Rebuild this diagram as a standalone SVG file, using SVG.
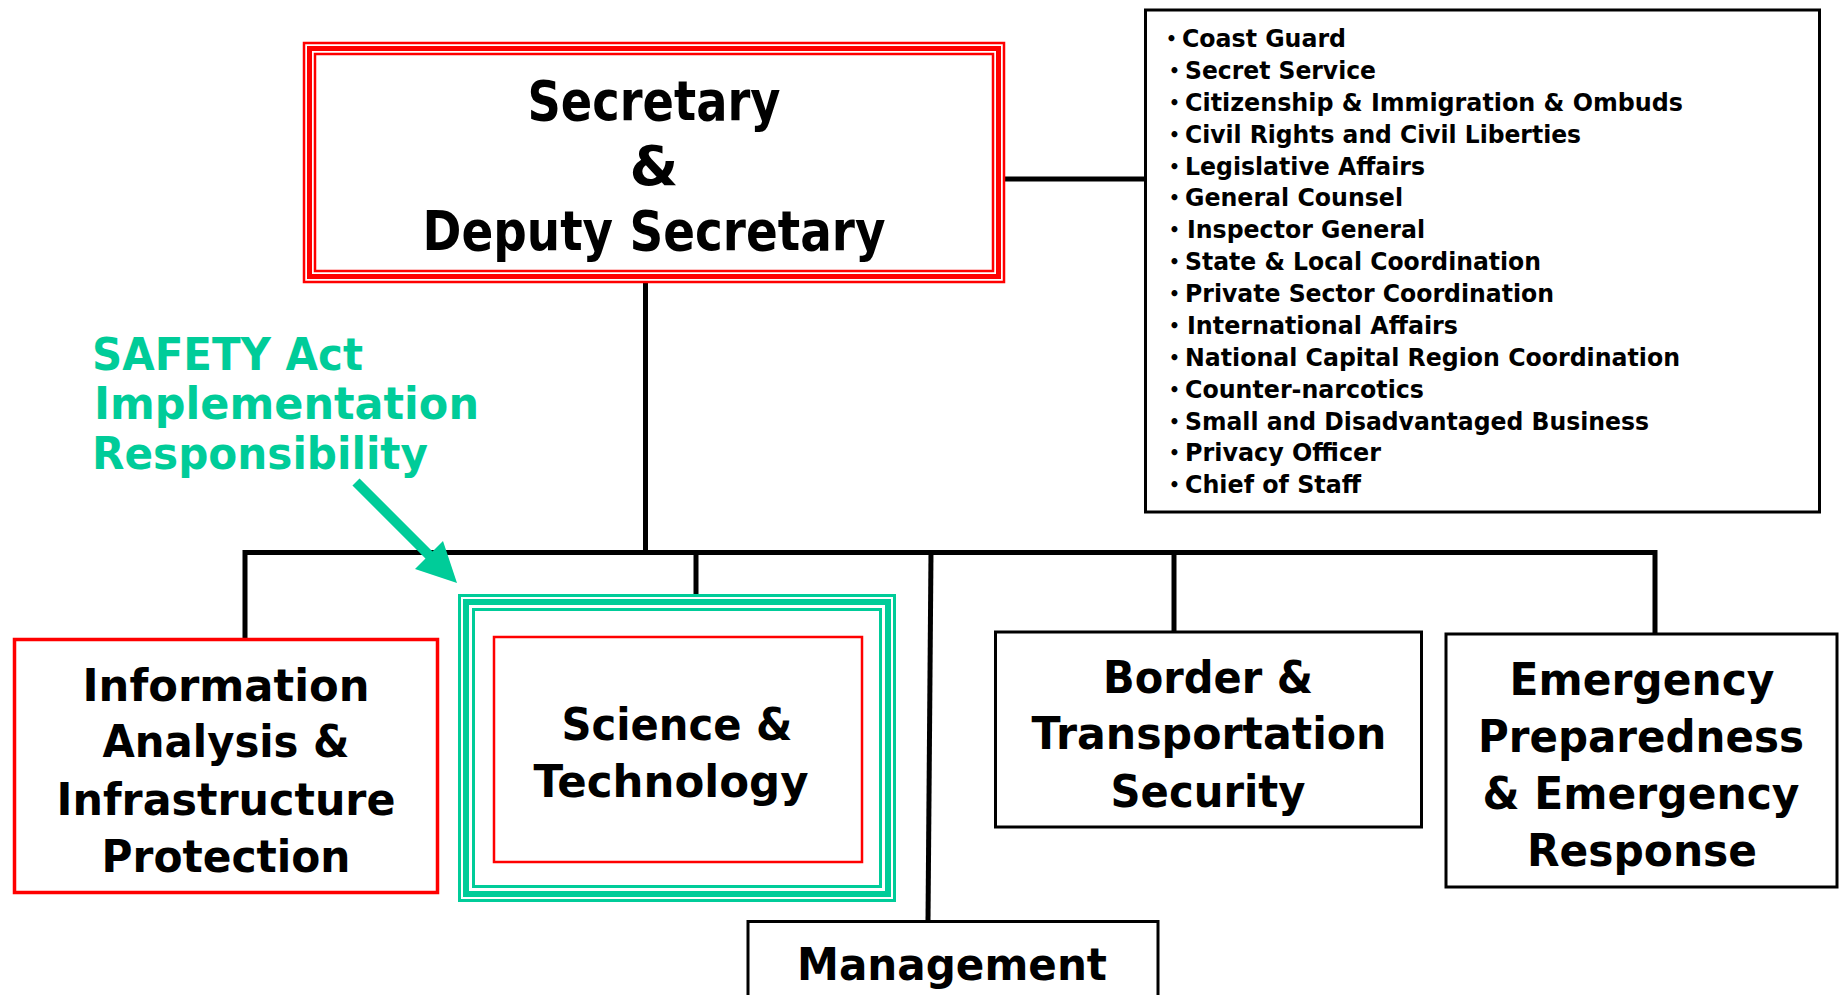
<svg xmlns="http://www.w3.org/2000/svg" width="1847" height="995" viewBox="0 0 1847 995">
<style>
.t{font-family:"DejaVu Sans","Liberation Sans",sans-serif;font-weight:bold;fill:#000;text-anchor:middle}
.big{font-size:56px}
.mid{font-size:45px}
.lst{font-family:"DejaVu Sans","Liberation Sans",sans-serif;font-weight:bold;font-size:24px;fill:#000}
.bul{font-size:17px}
.grn{font-family:"DejaVu Sans","Liberation Sans",sans-serif;font-weight:bold;font-size:44px;fill:#00CC99}
.red{fill:none;stroke:#FF0000}
.gr{fill:none;stroke:#00CC99}
.blk{fill:#fff;stroke:#000;stroke-width:3}
.con{fill:none;stroke:#000;stroke-width:5;stroke-linejoin:miter}
</style>
<rect width="1847" height="995" fill="#fff"/>

<g id="connectors">
<line class="con" x1="1005" y1="179" x2="1144" y2="179"/>
<line class="con" x1="645.5" y1="283" x2="645.5" y2="553"/>
<path class="con" d="M245,639 V552.5 H1655 V634"/>
<line class="con" x1="696" y1="552" x2="696" y2="637"/>
<line class="con" x1="931" y1="552" x2="928" y2="921"/>
<line class="con" x1="1174" y1="552" x2="1174" y2="632"/>
</g>

<g id="secretary">
<rect x="303" y="42" width="702" height="241" fill="#fff" stroke="none"/>
<rect class="red" x="304" y="43" width="700" height="239" stroke-width="2.5"/>
<rect class="red" x="309.5" y="48.5" width="689" height="228" stroke-width="5"/>
<rect class="red" x="315" y="54" width="678" height="217" stroke-width="2.5"/>
<text class="t big" x="654" y="120" textLength="253" lengthAdjust="spacingAndGlyphs">Secretary</text>
<text class="t big" x="654" y="185">&amp;</text>
<text class="t big" x="654" y="250" textLength="463" lengthAdjust="spacingAndGlyphs">Deputy Secretary</text>
</g>

<g id="offices">
<rect class="blk" x="1145.5" y="10" width="674" height="502"/>
<g class="lst">
<text class="bul" x="1166" y="45">•</text><text x="1182" y="47" textLength="164" lengthAdjust="spacingAndGlyphs">Coast Guard</text>
<text class="bul" x="1169" y="77">•</text><text x="1185" y="79" textLength="191" lengthAdjust="spacingAndGlyphs">Secret Service</text>
<text class="bul" x="1169" y="109">•</text><text x="1185" y="111" textLength="498" lengthAdjust="spacingAndGlyphs">Citizenship &amp; Immigration &amp; Ombuds</text>
<text class="bul" x="1169" y="141">•</text><text x="1185" y="143" textLength="396" lengthAdjust="spacingAndGlyphs">Civil Rights and Civil Liberties</text>
<text class="bul" x="1169" y="173">•</text><text x="1185" y="175" textLength="240" lengthAdjust="spacingAndGlyphs">Legislative Affairs</text>
<text class="bul" x="1169" y="204">•</text><text x="1185" y="206" textLength="218" lengthAdjust="spacingAndGlyphs">General Counsel</text>
<text class="bul" x="1169" y="236">•</text><text x="1187" y="238" textLength="238" lengthAdjust="spacingAndGlyphs">Inspector General</text>
<text class="bul" x="1169" y="268">•</text><text x="1185" y="270" textLength="356" lengthAdjust="spacingAndGlyphs">State &amp; Local Coordination</text>
<text class="bul" x="1169" y="300">•</text><text x="1185" y="302" textLength="369" lengthAdjust="spacingAndGlyphs">Private Sector Coordination</text>
<text class="bul" x="1169" y="332">•</text><text x="1187" y="334" textLength="271" lengthAdjust="spacingAndGlyphs">International Affairs</text>
<text class="bul" x="1169" y="364">•</text><text x="1185" y="366" textLength="495" lengthAdjust="spacingAndGlyphs">National Capital Region Coordination</text>
<text class="bul" x="1169" y="396">•</text><text x="1185" y="398" textLength="239" lengthAdjust="spacingAndGlyphs">Counter-narcotics</text>
<text class="bul" x="1169" y="428">•</text><text x="1185" y="430" textLength="464" lengthAdjust="spacingAndGlyphs">Small and Disadvantaged Business</text>
<text class="bul" x="1169" y="459">•</text><text x="1185" y="461" textLength="196" lengthAdjust="spacingAndGlyphs">Privacy Officer</text>
<text class="bul" x="1169" y="491">•</text><text x="1185" y="493" textLength="176" lengthAdjust="spacingAndGlyphs">Chief of Staff</text>
</g>
</g>

<g id="safety-note">
<text class="grn" x="92" y="370" textLength="271" lengthAdjust="spacingAndGlyphs">SAFETY Act</text>
<text class="grn" x="94" y="419" textLength="385" lengthAdjust="spacingAndGlyphs">Implementation</text>
<text class="grn" x="92" y="469" textLength="336" lengthAdjust="spacingAndGlyphs">Responsibility</text>
<line x1="356" y1="482" x2="437" y2="563" stroke="#00CC99" stroke-width="10"/>
<polygon points="457,583 415,569 443,541" fill="#00CC99"/>
</g>

<g id="iaip">
<rect x="14.5" y="639.5" width="423" height="253" fill="#fff" stroke="#FF0000" stroke-width="3.5"/>
<text class="t mid" x="226" y="701" textLength="287" lengthAdjust="spacingAndGlyphs">Information</text>
<text class="t mid" x="226" y="757" textLength="247" lengthAdjust="spacingAndGlyphs">Analysis &amp;</text>
<text class="t mid" x="226" y="815" textLength="339" lengthAdjust="spacingAndGlyphs">Infrastructure</text>
<text class="t mid" x="226" y="872" textLength="249" lengthAdjust="spacingAndGlyphs">Protection</text>
</g>

<g id="science-technology">
<rect x="458" y="594" width="438" height="308" fill="#fff" stroke="none"/>
<rect class="gr" x="459.5" y="595.5" width="435" height="305" stroke-width="3"/>
<rect class="gr" x="466" y="602" width="422" height="292" stroke-width="6"/>
<rect class="gr" x="473.5" y="609.5" width="407" height="277" stroke-width="3"/>
<rect class="red" x="494" y="637" width="368" height="225" stroke-width="2.5"/>
<text class="t mid" x="677" y="740" textLength="231" lengthAdjust="spacingAndGlyphs">Science &amp;</text>
<text class="t mid" x="671" y="797" textLength="275" lengthAdjust="spacingAndGlyphs">Technology</text>
</g>

<g id="border-transportation">
<rect class="blk" x="995.5" y="632" width="426" height="195"/>
<text class="t mid" x="1208" y="693" textLength="210" lengthAdjust="spacingAndGlyphs">Border &amp;</text>
<text class="t mid" x="1209" y="749" textLength="355" lengthAdjust="spacingAndGlyphs">Transportation</text>
<text class="t mid" x="1208" y="807" textLength="195" lengthAdjust="spacingAndGlyphs">Security</text>
</g>

<g id="emergency">
<rect class="blk" x="1446" y="634" width="391" height="253"/>
<text class="t mid" x="1642" y="695" textLength="265" lengthAdjust="spacingAndGlyphs">Emergency</text>
<text class="t mid" x="1641" y="752" textLength="326" lengthAdjust="spacingAndGlyphs">Preparedness</text>
<text class="t mid" x="1641" y="809" textLength="317" lengthAdjust="spacingAndGlyphs">&amp; Emergency</text>
<text class="t mid" x="1642" y="866" textLength="230" lengthAdjust="spacingAndGlyphs">Response</text>
</g>

<g id="management">
<rect class="blk" x="748" y="921.5" width="410" height="90"/>
<text class="t mid" x="952" y="980" textLength="310" lengthAdjust="spacingAndGlyphs">Management</text>
</g>
</svg>
